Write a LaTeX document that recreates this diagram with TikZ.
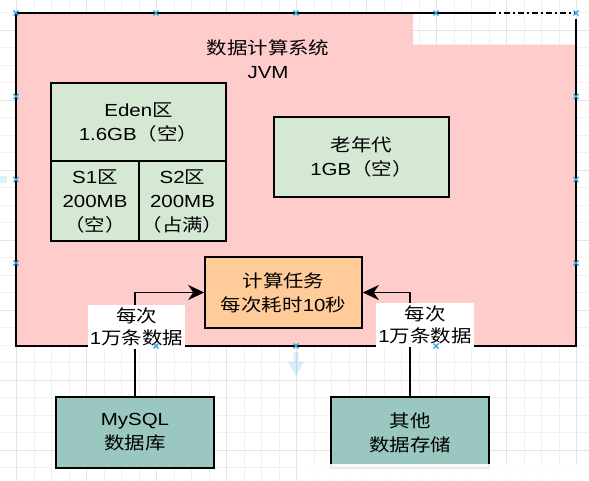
\documentclass[tikz,border=0pt]{standalone}
\usepackage{fontspec}
\setmainfont{Liberation Sans}[FakeStretch=1.17]
\newfontfamily\cjk{Noto Sans CJK SC}[FakeStretch=1.17]
\newcommand\zh[1]{{\cjk #1}}
\usetikzlibrary{arrows.meta}
\definecolor{pinkbg}{HTML}{FFCCCC}
\definecolor{greenbox}{HTML}{D5E8D4}
\definecolor{orangebox}{HTML}{FFCC99}
\definecolor{tealbox}{HTML}{9AC7BF}
\definecolor{handle}{HTML}{2AA3DE}
\definecolor{gridminor}{HTML}{F1F1F1}
\definecolor{gridmajor}{HTML}{E3E3E3}
\tikzset{
  txt/.style={font=\fontsize{17.5}{24}\selectfont, align=center, inner sep=0pt},
  box/.style={txt, draw=black, line width=1.6pt},
  greenb/.style={box, fill=greenbox},
  orangeb/.style={box, fill=orangebox},
  tealb/.style={box, fill=tealbox},
  lbl/.style={font=\fontsize{17.5}{21.5}\selectfont, align=center, fill=white, inner xsep=2pt, inner ysep=3pt},
  conn/.style={line width=1.5pt, -{Stealth[length=16pt,width=15pt,inset=5pt]}},
  hmark/.style={handle, line width=1.2pt},
}
\begin{document}
\begin{tikzpicture}[x=1pt,y=-1pt]
\useasboundingbox (0,0) rectangle (589,481);
\fill[white] (0,0) rectangle (589,481);
% grid
\foreach \k in {0,...,34} \draw[gridminor, line width=0.8pt] ({16.7+17.5*(\k-1)},0) -- ({16.7+17.5*(\k-1)},481);
\foreach \k in {0,...,28} \draw[gridminor, line width=0.8pt] (0,{12.5+17.5*(\k-1)}) -- (589,{12.5+17.5*(\k-1)});
\foreach \k in {0,...,9} \draw[gridmajor, line width=0.8pt] ({16.7+70*(\k-1)},0) -- ({16.7+70*(\k-1)},481);
\foreach \k in {0,...,7} \draw[gridmajor, line width=0.8pt] (0,{30+70*(\k-1)}) -- (589,{30+70*(\k-1)});
% big JVM container
\fill[pinkbg] (16,13) -- (413,13) -- (413,44.7) -- (576,44.7) -- (576,346) -- (16,346) -- cycle;
\draw[line width=1.6pt] (490,13) -- (16,13) -- (16,346) -- (576,346) -- (576,19);
\draw[line width=1.6pt, dash pattern=on 6pt off 3pt on 2pt off 3pt] (490,13) -- (576,13);
\node[txt] (title) at (268,59) {\zh{数据计算系统}\\JVM};
% memory areas
\node[greenb, minimum width=175pt, minimum height=78pt] (eden) at (138.5,122) {Eden\zh{区}\\1.6GB\zh{（空）}};
\node[greenb, minimum width=88pt, minimum height=80pt] (s1) at (95,201) {S1\zh{区}\\200MB\\\zh{（空）}};
\node[greenb, minimum width=87pt, minimum height=80pt] (s2) at (182.5,201) {S2\zh{区}\\200MB\\\zh{（占满）}};
\node[greenb, minimum width=175pt, minimum height=80pt] (old) at (361.5,157) {\zh{老年代}\\1GB\zh{（空）}};
% compute task
\node[orangeb, minimum width=157pt, minimum height=71pt] (calc) at (283.5,292.5) {\zh{计算任务}\\\zh{每次耗时}10\zh{秒}};
% data sources
\node[tealb, minimum width=158pt, minimum height=71pt] (mysql) at (135,432.5) {MySQL\\\zh{数据库}};
\node[tealb, minimum width=158pt, minimum height=71pt] (other) at (410,432.5) {\zh{其他}\\\zh{数据存储}};
% connectors
\draw[conn] (mysql.north) |- (calc.west);
\draw[conn] (other.north) |- (calc.east);
\node[lbl] (l1) at (136.5,327) {\zh{每次}\\1\zh{万条数据}};
\node[lbl] (l2) at (425,325) {\zh{每次}\\1\zh{万条数据}};
% selection handles
\foreach \p in {(16,13),(156,13),(296,13),(436,13),(576,13),(16,96.5),(16,179.5),(16,263),(576,96.5),(576,179.5),(576,263),(156,346),(296,346),(436,346)}
  \draw[hmark] \p ++(-2.5,-2.5) -- ++(5,5) \p ++(-2.5,2.5) -- ++(5,-5);
\fill[handle, opacity=0.18] (293.5,352) rectangle (298.5,362) (288,362) -- (304,362) -- (296,376) -- cycle;
\fill[handle, opacity=0.15] (0,176) rectangle (7,183);
% watermark strip
\fill[white, opacity=0.92] (297,463.5) rectangle (589,481);
\end{tikzpicture}
\end{document}
